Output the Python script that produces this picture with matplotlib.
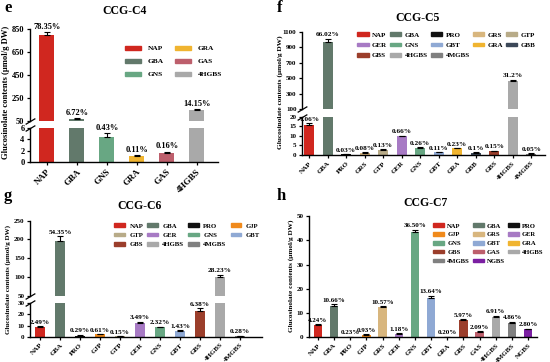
import numpy as np
import matplotlib
matplotlib.use("Agg")
import matplotlib.pyplot as plt
from matplotlib.patches import Patch

plt.rcParams['font.family'] = ['Liberation Serif', 'DejaVu Serif']
plt.rcParams['font.weight'] = 'bold'
plt.rcParams['axes.labelweight'] = 'bold'
plt.rcParams['axes.linewidth'] = 1.0

# panel e  (CCG-C4)
e_names = ["NAP", "GBA", "GNS", "GRA", "GAS", "4HGBS"]
e_vals = [795, 68, 4.4, 1.1, 1.6, 144]
e_err = [25, 4, 0.7, 0.1, 0.2, 7]
e_pct = ["78.35%", "6.72%", "0.43%", "0.11%", "0.16%", "14.15%"]

# panel f  (CCG-C5)
f_names = ["NAP", "GBA", "PRO", "GRS", "GTP", "GER", "GNS", "GBT", "GRA", "GBB", "GBS", "4HGBS", "4MGBS"]
f_vals = [15.5, 965, 0.4, 1.2, 2.7, 9.7, 3.8, 1.4, 3.4, 1.3, 2.1, 458, 0.7]
f_err = [1.0, 50, 0.1, 0.2, 0.3, 0.4, 0.4, 0.2, 0.3, 0.2, 0.2, 25, 0.1]
f_pct = ["1.06%", "66.02%", "0.03%", "0.08%", "0.13%", "0.66%", "0.26%", "0.11%", "0.23%", "0.1%", "0.15%", "31.2%", "0.05%"]

# panel g  (CCG-C6)
g_names = ["NAP", "GBA", "PRO", "GJP", "GTP", "GER", "GNS", "GBT", "GBS", "4HGBS", "4MGBS"]
g_vals = [8.7, 197, 1.0, 2.0, 0.5, 12.5, 8.3, 5.0, 23, 101, 0.8]
g_err = [0.8, 12, 0.8, 0.5, 0.1, 1.0, 0.8, 0.6, 2.5, 5, 0.2]
g_pct = ["2.49%", "54.35%", "0.29%", "0.61%", "0.15%", "3.49%", "2.32%", "1.43%", "6.38%", "28.23%", "0.28%"]

# panel h  (CCG-C7)
h_names = ["NAP", "GBA", "PRO", "GJP", "GRS", "GER", "GNS", "GBT", "GRA", "GBS", "GAS", "4HGBS", "4MGBS", "NGBS"]
h_vals = [5.0, 12.7, 0.2, 1.1, 12.6, 1.4, 43.5, 16.3, 0.2, 7.0, 2.3, 8.2, 5.8, 3.3]
h_err = [0.4, 0.9, 0.05, 0.2, 0.2, 0.3, 0.9, 0.9, 0.05, 0.5, 0.2, 0.7, 0.6, 0.3]
h_pct = ["4.24%", "10.66%", "0.23%", "0.93%", "10.57%", "1.18%", "36.50%", "13.64%", "0.20%", "5.97%", "2.09%", "6.91%", "4.86%", "2.80%"]

colors = {"NAP": "#d0271f", "GBA": "#62796b", "PRO": "#111111", "GJP": "#f08a1c",
          "GRS": "#d8b67e", "GTP": "#b8ab88", "GER": "#a77ac4", "GNS": "#68a783",
          "GBT": "#8fa9d4", "GRA": "#f0b430", "GBB": "#3c4858", "GBS": "#9b3e2b",
          "GAS": "#bd5f6c", "4HGBS": "#a9a9a9", "4MGBS": "#808080", "NGBS": "#7b1fa2"}

W, H = 550.0, 362.0
fig = plt.figure(figsize=(5.5, 3.62), dpi=100)


def rect(x0, x1, ytop, ybot):
    # pixel box -> figure fraction
    return [x0 / W, 1 - ybot / H, (x1 - x0) / W, (ybot - ytop) / H]


def style(ax, fs):
    ax.spines['top'].set_visible(False)
    ax.spines['right'].set_visible(False)
    ax.tick_params(length=2.5, width=0.9, labelsize=fs, pad=1.5)
    for t in ax.get_yticklabels():
        t.set_fontweight('bold')


def draw_panel(names, vals, errs, pcts, xlim, box_up, box_low, ylim_up, ticks_up,
               ylim_low=None, ticks_low=None, ytick_fs=5, xtick_fs=5, pct_fs=5.2, bw=0.52):
    x = np.arange(len(names))
    cols = [colors[n] for n in names]
    ax_up = fig.add_axes(rect(*box_up))
    axes = [ax_up]
    if box_low is not None:
        ax_low = fig.add_axes(rect(*box_low))
        axes.append(ax_low)
    else:
        ax_low = ax_up
    for ax in axes:
        ax.bar(x, vals, width=bw, color=cols, edgecolor='none')
        ax.set_xlim(*xlim)
        style(ax, ytick_fs)
    ax_up.set_ylim(*ylim_up)
    ax_up.set_yticks(ticks_up)
    if box_low is not None:
        ax_low.set_ylim(*ylim_low)
        ax_low.set_yticks(ticks_low)
        ax_up.spines['bottom'].set_visible(False)
        ax_up.tick_params(axis='x', bottom=False, labelbottom=False)
        kw = dict(marker=[(-1, -0.6), (1, 0.6)], markersize=7, color='k', mew=0.9,
                  linestyle='none', clip_on=False)
        ax_up.plot([0], [0], transform=ax_up.transAxes, **kw)
        ax_low.plot([0], [1], transform=ax_low.transAxes, **kw)
    for i in range(len(names)):
        ax = ax_up if (box_low is not None and vals[i] > ylim_up[0]) else ax_low
        ax.errorbar(x[i], vals[i], yerr=[[0], [errs[i]]], fmt='none', ecolor='k',
                    elinewidth=0.8, capsize=2, capthick=0.8)
        ax.annotate(pcts[i], (x[i], vals[i] + errs[i]), xytext=(0, 1), textcoords='offset points',
                    ha='center', va='bottom', fontsize=pct_fs, fontweight='bold',
                    annotation_clip=False)
    ax_low.set_xticks(x)
    ax_low.set_xticklabels(names, rotation=45, ha='right', rotation_mode='anchor',
                           fontsize=xtick_fs, fontweight='bold')
    return ax_up


def add_legend(names, ncol, xy, rowmajor=True, fs=5.0, **kw):
    order = names
    if rowmajor:
        order = [n for c in range(ncol) for n in names[c::ncol]]
    handles = [Patch(color=colors[n], label=n) for n in order]
    fig.legend(handles=handles, ncol=ncol, loc='upper left',
               bbox_to_anchor=(xy[0] / W, 1 - xy[1] / H), frameon=False,
               borderpad=0, handleheight=0.45, prop={'weight': 'bold', 'size': fs}, **kw)


ylab = "Glucosinolate contents (μmol/g DW)"

# e
draw_panel(e_names, e_vals, e_err, e_pct, (-0.56, 5.71),
           (30, 218, 29, 121), (30, 218, 128, 162), (50, 850), [50, 250, 450, 650, 850],
           (0, 6), [0, 2, 4, 6], ytick_fs=6, xtick_fs=6.5, pct_fs=6, bw=0.5)
add_legend(e_names, 2, (121, 42), rowmajor=False, fs=5.3, handlelength=2.2,
           labelspacing=1.0, columnspacing=1.5, handletextpad=0.9)
fig.text(125 / W, 1 - 11 / H, "CCG-C4", ha='center', va='center', fontsize=8.5, fontweight='bold')
fig.text(6 / W, 1 - 92 / H, ylab, rotation=90, ha='center', va='center', fontsize=6.2, fontweight='bold')
fig.text(4 / W, 1 - 8 / H, "e", ha='left', va='center', fontsize=12, fontweight='bold')

# f
draw_panel(f_names, f_vals, f_err, f_pct, (-0.39, 12.74),
           (302, 545, 32, 109), (302, 545, 116.7, 155), (100, 1100), [100, 300, 500, 700, 900, 1100],
           (0, 20), [0, 5, 10, 15, 20])
add_legend(f_names, 5, (354, 29), fs=5.0, handlelength=1.6,
           labelspacing=0.7, columnspacing=0.45, handletextpad=0.5)
fig.text(418 / W, 1 - 18 / H, "CCG-C5", ha='center', va='center', fontsize=8.5, fontweight='bold')
fig.text(280 / W, 1 - 92 / H, ylab, rotation=90, ha='center', va='center', fontsize=5.3, fontweight='bold')
fig.text(277 / W, 1 - 8 / H, "f", ha='left', va='center', fontsize=12, fontweight='bold')

# g
draw_panel(g_names, g_vals, g_err, g_pct, (-0.5, 11.1),
           (30, 262, 220.7, 295.7), (30, 262, 303.3, 336.7), (50, 250), [50, 100, 150, 200, 250],
           (0, 30), [0, 10, 20, 30])
add_legend(g_names, 4, (111, 220), fs=4.9, handlelength=1.6,
           labelspacing=0.6, columnspacing=0.6, handletextpad=0.6)
fig.text(140 / W, 1 - 206 / H, "CCG-C6", ha='center', va='center', fontsize=8.5, fontweight='bold')
fig.text(8 / W, 1 - 280 / H, ylab, rotation=90, ha='center', va='center', fontsize=5, fontweight='bold')
fig.text(4 / W, 1 - 196 / H, "g", ha='left', va='center', fontsize=12, fontweight='bold')

# h
draw_panel(h_names, h_vals, h_err, h_pct, (-0.54, 13.54),
           (309, 537, 216, 337.3), None, (0, 50), [0, 10, 20, 30, 40, 50], pct_fs=5.0)
add_legend(h_names, 3, (430, 220), fs=4.8, handlelength=1.6,
           labelspacing=0.55, columnspacing=0.45, handletextpad=0.5)
fig.text(425 / W, 1 - 203 / H, "CCG-C7", ha='center', va='center', fontsize=8.5, fontweight='bold')
fig.text(291 / W, 1 - 276 / H, ylab, rotation=90, ha='center', va='center', fontsize=5.2, fontweight='bold')
fig.text(277 / W, 1 - 196 / H, "h", ha='left', va='center', fontsize=12, fontweight='bold')

fig.savefig("out.png", dpi=100)
